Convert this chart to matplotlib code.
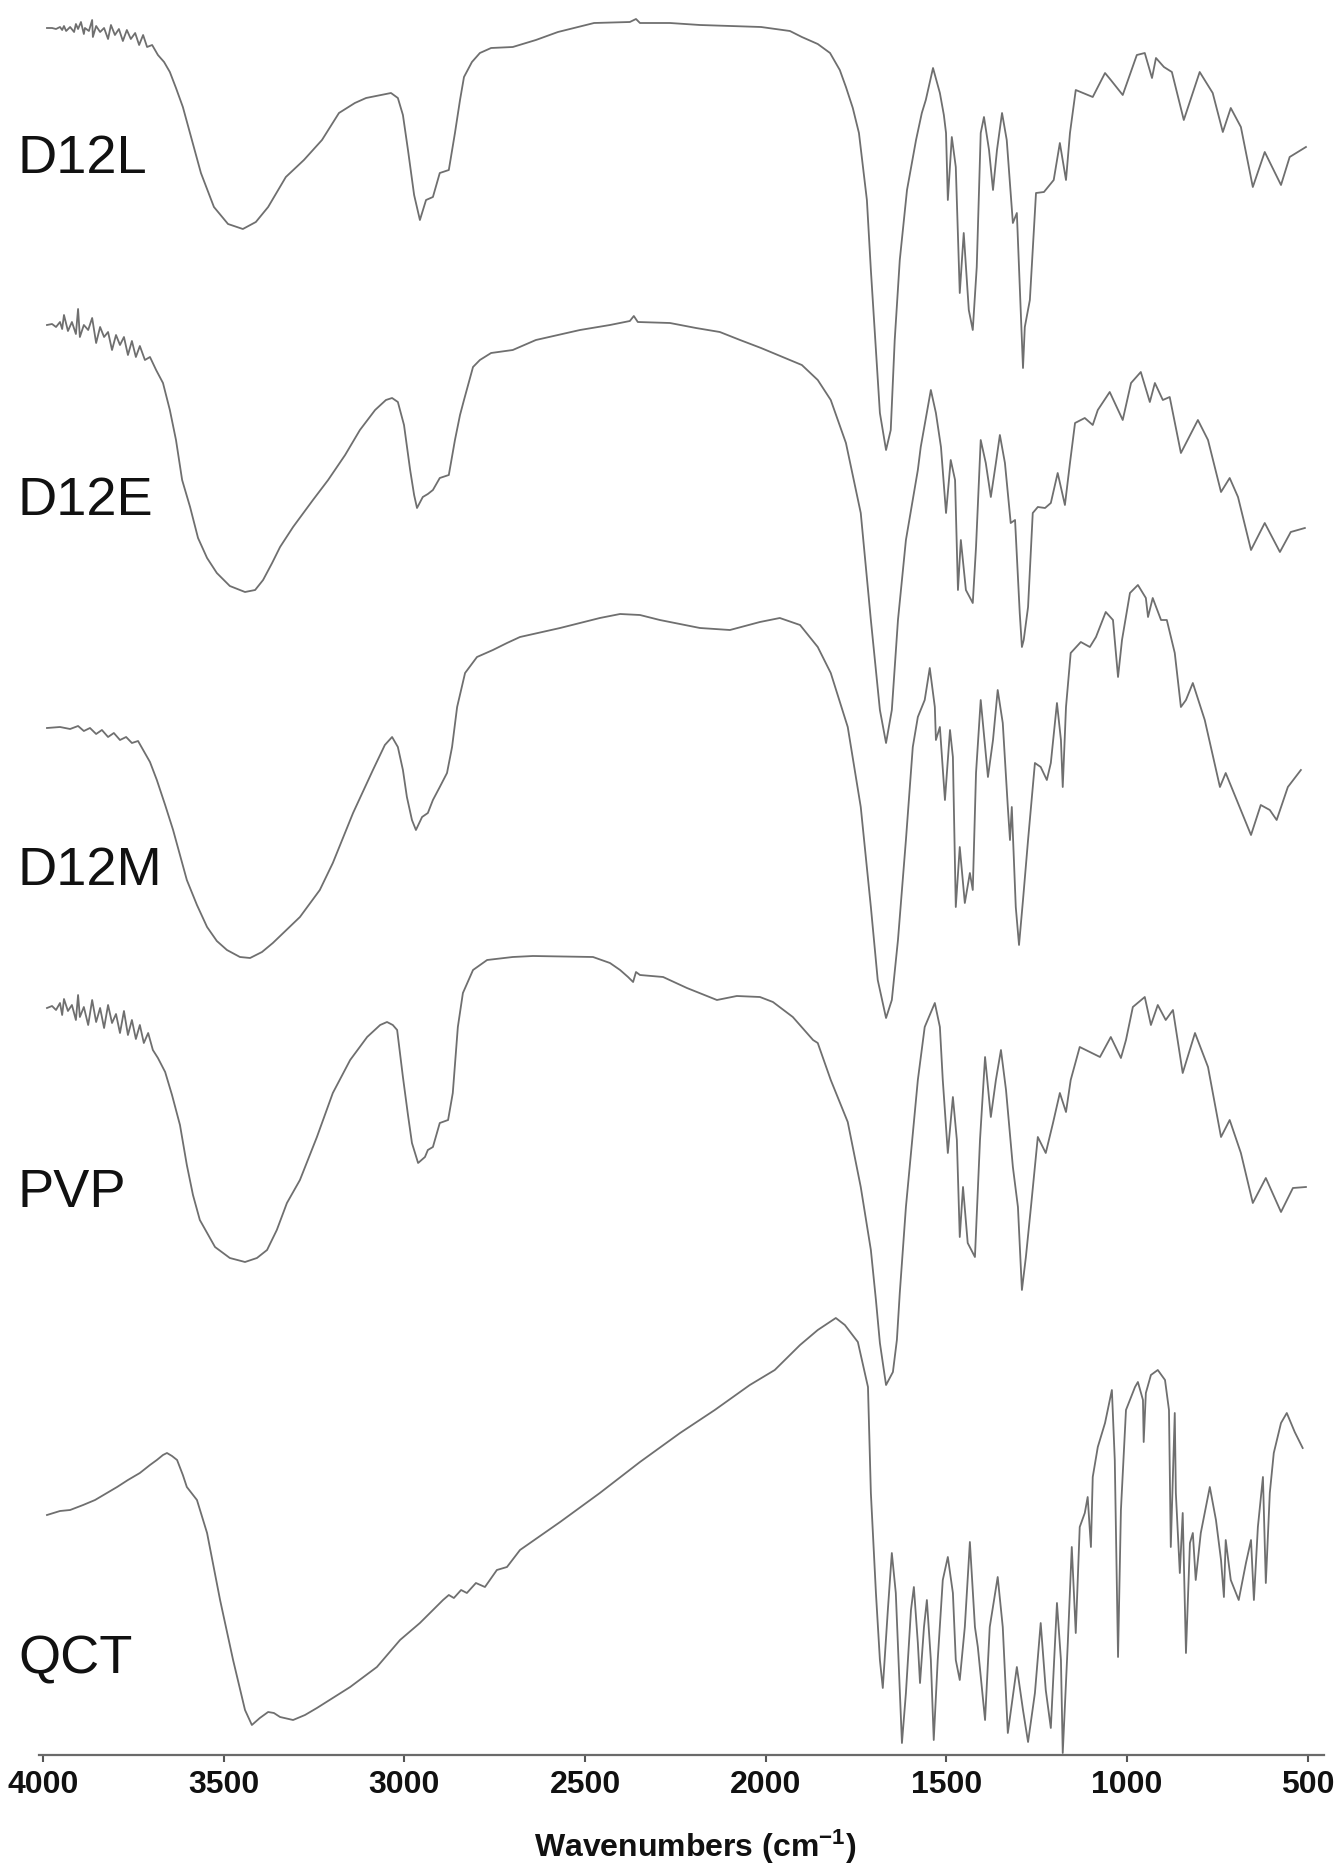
import numpy as np
import matplotlib
matplotlib.use('Agg')
import matplotlib.pyplot as plt

plt.rcParams['font.family'] = ['Liberation Sans', 'DejaVu Sans']
plt.rcParams['mathtext.fontset'] = 'custom'
plt.rcParams['mathtext.rm'] = 'Liberation Sans:bold'
plt.rcParams['mathtext.it'] = 'Liberation Sans:bold'
plt.rcParams['mathtext.bf'] = 'Liberation Sans:bold'

# FTIR spectra: (wavenumber cm-1, stacked transmittance a.u.)
names = ['D12L', 'D12E', 'D12M', 'PVP', 'QCT']

d12l = [(3989, 1727), (3975, 1727), (3964, 1726), (3953, 1728), (3947, 1725), (3942, 1729),
        (3936, 1724), (3925, 1728), (3914, 1723), (3909, 1731), (3903, 1726), (3895, 1733),
        (3887, 1721), (3884, 1727), (3873, 1724), (3864, 1735), (3862, 1718), (3853, 1729),
        (3842, 1723), (3831, 1727), (3820, 1716), (3812, 1730), (3801, 1720), (3790, 1726),
        (3779, 1714), (3768, 1725), (3757, 1716), (3745, 1722), (3734, 1710), (3723, 1720),
        (3712, 1708), (3698, 1710), (3682, 1700), (3665, 1693), (3649, 1683), (3632, 1667),
        (3613, 1648), (3588, 1615), (3563, 1582), (3527, 1548), (3488, 1531), (3447, 1526),
        (3411, 1533), (3377, 1548), (3328, 1578), (3278, 1595), (3228, 1615), (3181, 1642),
        (3137, 1652), (3106, 1657), (3037, 1662), (3018, 1657), (3004, 1640), (2990, 1605),
        (2973, 1560), (2957, 1535), (2940, 1555), (2921, 1558), (2902, 1582), (2877, 1585),
        (2860, 1622), (2846, 1655), (2835, 1678), (2813, 1693), (2791, 1702), (2760, 1707),
        (2700, 1708), (2636, 1715), (2575, 1723), (2475, 1732), (2376, 1733), (2359, 1736),
        (2348, 1732), (2265, 1732), (2182, 1730), (2013, 1728), (1933, 1724), (1900, 1718),
        (1856, 1711), (1822, 1702), (1795, 1685), (1778, 1668), (1759, 1647), (1742, 1622),
        (1720, 1555), (1709, 1485), (1695, 1405), (1684, 1342), (1667, 1305), (1654, 1325),
        (1643, 1415), (1629, 1495), (1609, 1565), (1584, 1615), (1568, 1642), (1557, 1655),
        (1537, 1687), (1518, 1662), (1507, 1640), (1501, 1622), (1496, 1555), (1485, 1618),
        (1474, 1588), (1463, 1462), (1452, 1522), (1438, 1445), (1427, 1425), (1416, 1488),
        (1405, 1622), (1396, 1638), (1382, 1605), (1371, 1565), (1360, 1605), (1346, 1642),
        (1333, 1615), (1316, 1532), (1305, 1542), (1288, 1387), (1283, 1428), (1269, 1455),
        (1252, 1562), (1230, 1563), (1203, 1575), (1186, 1612), (1169, 1575), (1158, 1622),
        (1142, 1665), (1095, 1658), (1061, 1682), (1045, 1675), (1012, 1660), (973, 1700),
        (951, 1702), (931, 1677), (920, 1697), (898, 1688), (876, 1683), (843, 1635),
        (799, 1683), (763, 1662), (735, 1623), (713, 1647), (685, 1628), (652, 1568),
        (619, 1603), (574, 1570), (550, 1598), (505, 1608)]

d12e = [(3989, 1430), (3975, 1431), (3964, 1428), (3953, 1433), (3947, 1426), (3942, 1440),
        (3931, 1424), (3920, 1433), (3909, 1421), (3903, 1446), (3898, 1418), (3887, 1430),
        (3875, 1425), (3864, 1437), (3853, 1412), (3842, 1428), (3831, 1418), (3820, 1423),
        (3809, 1405), (3798, 1420), (3787, 1410), (3776, 1418), (3765, 1400), (3754, 1414),
        (3743, 1398), (3732, 1409), (3718, 1395), (3704, 1398), (3687, 1385), (3668, 1372),
        (3649, 1345), (3632, 1315), (3615, 1275), (3593, 1248), (3571, 1217), (3546, 1197),
        (3519, 1182), (3483, 1169), (3441, 1163), (3413, 1165), (3391, 1175), (3366, 1192),
        (3344, 1208), (3308, 1228), (3253, 1255), (3211, 1275), (3164, 1300), (3123, 1325),
        (3081, 1345), (3051, 1355), (3034, 1357), (3018, 1353), (3001, 1330), (2984, 1285),
        (2973, 1260), (2965, 1247), (2949, 1258), (2935, 1261), (2921, 1265), (2902, 1277),
        (2877, 1280), (2860, 1315), (2846, 1340), (2835, 1355), (2810, 1388), (2791, 1395),
        (2760, 1402), (2700, 1405), (2636, 1415), (2575, 1420), (2514, 1425), (2431, 1430),
        (2376, 1434), (2365, 1439), (2354, 1433), (2265, 1432), (2193, 1427), (2127, 1423),
        (2071, 1415), (2013, 1407), (1933, 1395), (1900, 1390), (1856, 1375), (1820, 1355),
        (1778, 1312), (1737, 1242), (1709, 1135), (1684, 1045), (1667, 1012), (1651, 1045),
        (1634, 1135), (1612, 1215), (1579, 1285), (1571, 1308), (1543, 1365), (1529, 1342),
        (1515, 1308), (1501, 1242), (1488, 1295), (1476, 1275), (1468, 1165), (1460, 1215),
        (1446, 1165), (1427, 1152), (1418, 1208), (1405, 1315), (1391, 1292), (1377, 1258),
        (1363, 1292), (1352, 1320), (1338, 1292), (1322, 1232), (1310, 1235), (1297, 1142),
        (1291, 1108), (1286, 1115), (1274, 1148), (1261, 1242), (1247, 1248), (1227, 1247),
        (1211, 1252), (1192, 1282), (1172, 1250), (1158, 1292), (1144, 1332), (1117, 1337),
        (1095, 1330), (1081, 1345), (1048, 1363), (1012, 1335), (989, 1372), (962, 1383),
        (937, 1353), (923, 1372), (901, 1355), (882, 1358), (851, 1302), (804, 1335),
        (776, 1315), (740, 1263), (716, 1277), (693, 1258), (657, 1205), (619, 1232),
        (577, 1203), (547, 1223), (508, 1227)]

d12m = [(3989, 1027), (3953, 1028), (3925, 1026), (3903, 1029), (3887, 1024), (3870, 1027),
        (3853, 1021), (3837, 1025), (3820, 1018), (3804, 1022), (3787, 1015), (3770, 1018),
        (3754, 1012), (3737, 1014), (3723, 1005), (3704, 993), (3685, 975), (3662, 950),
        (3640, 925), (3602, 875), (3574, 850), (3546, 828), (3519, 814), (3491, 805),
        (3455, 798), (3427, 797), (3394, 803), (3364, 812), (3289, 838), (3234, 865),
        (3198, 892), (3142, 942), (3087, 985), (3054, 1010), (3034, 1018), (3018, 1008),
        (3004, 985), (2993, 958), (2979, 935), (2968, 925), (2951, 938), (2935, 942),
        (2921, 955), (2902, 968), (2882, 982), (2868, 1008), (2854, 1048), (2832, 1082),
        (2799, 1098), (2755, 1105), (2716, 1112), (2680, 1118), (2569, 1127), (2459, 1137),
        (2403, 1141), (2348, 1140), (2293, 1135), (2182, 1127), (2099, 1125), (2016, 1133),
        (1961, 1137), (1905, 1130), (1856, 1108), (1820, 1082), (1773, 1028), (1737, 948),
        (1709, 848), (1690, 775), (1667, 737), (1651, 755), (1634, 815), (1612, 915),
        (1593, 1008), (1579, 1038), (1560, 1055), (1546, 1087), (1532, 1048), (1529, 1015),
        (1518, 1028), (1504, 955), (1490, 1025), (1482, 998), (1474, 848), (1463, 908),
        (1449, 852), (1435, 882), (1427, 865), (1418, 982), (1405, 1055), (1385, 978),
        (1371, 1015), (1358, 1065), (1344, 1032), (1330, 948), (1324, 915), (1319, 948),
        (1308, 848), (1299, 810), (1288, 855), (1274, 915), (1255, 992), (1239, 988),
        (1222, 975), (1211, 992), (1194, 1052), (1183, 1015), (1178, 968), (1169, 1048),
        (1156, 1102), (1128, 1113), (1103, 1108), (1086, 1118), (1059, 1143), (1039, 1135),
        (1025, 1078), (1014, 1115), (992, 1162), (970, 1170), (948, 1157), (942, 1138),
        (929, 1157), (906, 1135), (890, 1135), (868, 1102), (851, 1048), (837, 1055),
        (818, 1072), (785, 1035), (743, 968), (727, 982), (693, 952), (657, 920),
        (630, 950), (605, 945), (586, 935), (555, 968), (519, 985)]

pvp = [(3989, 747), (3975, 749), (3964, 745), (3953, 752), (3947, 740), (3942, 756),
       (3931, 744), (3920, 750), (3909, 735), (3903, 760), (3898, 738), (3887, 748),
       (3875, 730), (3864, 755), (3853, 733), (3842, 747), (3831, 727), (3820, 750),
       (3809, 732), (3798, 741), (3787, 722), (3776, 744), (3765, 720), (3754, 735),
       (3743, 716), (3732, 730), (3721, 712), (3709, 722), (3696, 705), (3682, 697),
       (3662, 683), (3643, 660), (3621, 630), (3602, 590), (3585, 560), (3566, 535),
       (3524, 508), (3483, 497), (3441, 493), (3408, 497), (3380, 505), (3353, 525),
       (3325, 552), (3289, 575), (3242, 618), (3198, 662), (3150, 695), (3103, 718),
       (3067, 730), (3048, 733), (3032, 730), (3020, 725), (3004, 678), (2990, 640),
       (2979, 612), (2962, 592), (2943, 598), (2935, 605), (2921, 608), (2910, 622),
       (2902, 632), (2879, 635), (2866, 662), (2852, 728), (2838, 762), (2810, 785),
       (2771, 795), (2700, 798), (2644, 799), (2478, 798), (2431, 792), (2403, 785),
       (2381, 778), (2367, 773), (2359, 783), (2348, 780), (2284, 778), (2218, 767),
       (2135, 755), (2080, 759), (2016, 758), (1980, 753), (1925, 738), (1869, 715),
       (1856, 712), (1820, 675), (1773, 633), (1737, 568), (1709, 505), (1695, 455),
       (1684, 412), (1667, 370), (1648, 383), (1637, 415), (1629, 462), (1612, 548),
       (1579, 675), (1560, 728), (1532, 752), (1518, 728), (1510, 675), (1496, 602),
       (1482, 658), (1471, 615), (1463, 518), (1454, 568), (1441, 512), (1421, 498),
       (1407, 615), (1393, 698), (1377, 638), (1363, 675), (1349, 705), (1335, 665),
       (1316, 588), (1302, 548), (1291, 465), (1280, 498), (1266, 548), (1247, 618),
       (1225, 602), (1205, 632), (1186, 662), (1169, 643), (1156, 675), (1131, 708),
       (1075, 698), (1045, 718), (1017, 697), (1003, 715), (984, 748), (951, 758),
       (934, 730), (915, 750), (893, 735), (873, 745), (846, 682), (812, 722),
       (776, 688), (740, 618), (716, 635), (685, 602), (652, 552), (616, 577),
       (574, 543), (541, 567), (505, 568)]

qct = [(3989, 240), (3953, 244), (3925, 245), (3889, 250), (3856, 255), (3828, 261),
       (3795, 268), (3765, 275), (3732, 282), (3704, 290), (3685, 295), (3668, 300),
       (3657, 302), (3643, 299), (3629, 295), (3613, 280), (3602, 268), (3574, 255),
       (3546, 222), (3510, 155), (3474, 95), (3441, 45), (3422, 30), (3400, 37),
       (3377, 43), (3361, 42), (3344, 38), (3308, 35), (3275, 40), (3242, 47),
       (3150, 68), (3076, 88), (3012, 115), (2957, 132), (2893, 155), (2877, 160),
       (2863, 157), (2843, 165), (2827, 162), (2802, 172), (2777, 168), (2744, 185),
       (2716, 188), (2680, 205), (2569, 233), (2459, 262), (2348, 293), (2237, 322),
       (2141, 345), (2044, 370), (1975, 385), (1905, 410), (1856, 425), (1806, 437),
       (1781, 430), (1745, 413), (1717, 368), (1709, 262), (1695, 162), (1684, 95),
       (1676, 67), (1662, 145), (1651, 202), (1640, 162), (1623, 12), (1612, 62),
       (1598, 145), (1590, 168), (1579, 112), (1573, 72), (1562, 128), (1554, 155),
       (1543, 95), (1535, 15), (1524, 95), (1510, 175), (1496, 198), (1482, 162),
       (1474, 95), (1463, 75), (1449, 128), (1435, 213), (1421, 128), (1413, 108),
       (1393, 35), (1380, 128), (1358, 178), (1344, 128), (1330, 22), (1305, 88),
       (1288, 45), (1274, 13), (1255, 62), (1239, 132), (1225, 65), (1211, 27),
       (1194, 152), (1183, 95), (1178, 2), (1164, 112), (1153, 208), (1142, 122),
       (1131, 228), (1117, 242), (1109, 258), (1100, 208), (1095, 278), (1081, 308),
       (1061, 332), (1042, 365), (1034, 295), (1025, 98), (1017, 245), (1003, 345),
       (978, 368), (970, 373), (956, 355), (954, 313), (948, 362), (934, 380),
       (915, 385), (895, 375), (884, 345), (879, 208), (868, 342), (865, 262),
       (854, 182), (846, 242), (837, 102), (826, 212), (818, 222), (810, 175),
       (796, 222), (771, 268), (754, 235), (740, 195), (732, 158), (727, 215),
       (713, 175), (691, 155), (671, 192), (657, 215), (649, 155), (638, 228),
       (624, 278), (616, 172), (605, 262), (594, 302), (574, 332), (558, 342),
       (536, 323), (514, 307)]

xticks = [4000, 3500, 3000, 2500, 2000, 1500, 1000, 500]

spectra = [d12l, d12e, d12m, pvp, qct]
label_base = [173, 515, 885, 1207, 1673]  # baseline of each name, px from top

W, H = 1338, 1870
fig = plt.figure(figsize=(W / 100, H / 100), dpi=100)
ax = fig.add_axes([39.4 / W, 115 / H, (1324 - 39.4) / W, 1755 / H])

for s in spectra:
    arr = np.array(s, dtype=float)
    ax.plot(arr[:, 0], arr[:, 1], color='#6f6f6f', lw=1.3, solid_joinstyle='round')

ax.set_xlim(4010, 455)
ax.set_ylim(0, 1755)
for side in ['top', 'right', 'left']:
    ax.spines[side].set_visible(False)
ax.spines['bottom'].set_color('#6a6a6a')
ax.spines['bottom'].set_linewidth(1.6)
ax.set_yticks([])
ax.set_xticks(xticks)
ax.set_xticklabels([str(t) for t in xticks], fontsize=23, fontweight='bold', color='#111111')
ax.tick_params(axis='x', direction='out', length=5, width=1.5, color='#555555', pad=6)

fig.text(695 / W, 1 - 1857 / H, r'Wavenumbers (cm$^{-1}$)', ha='center', va='baseline',
         fontsize=23, fontweight='bold', color='#111111')

for name, yb in zip(names, label_base):
    fig.text(18 / W, 1 - yb / H, name, ha='left', va='baseline', fontsize=39, color='#111111')

fig.savefig('out.png', dpi=100)
